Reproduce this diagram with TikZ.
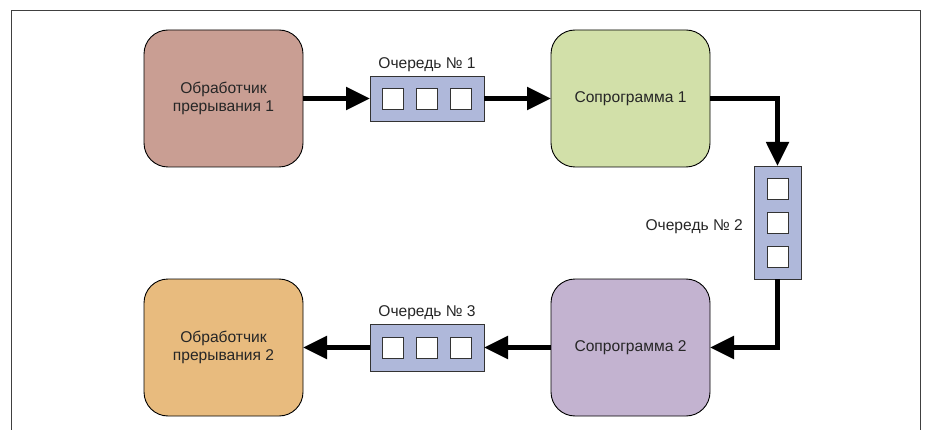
\documentclass[tikz,border=0pt]{standalone}
\usepackage{fontspec}
\setmainfont{Liberation Sans}
\usetikzlibrary{arrows.meta,positioning}

\definecolor{handlerA}{HTML}{C99E93}
\definecolor{handlerB}{HTML}{E8BB7E}
\definecolor{coroA}{HTML}{D2E0A9}
\definecolor{coroB}{HTML}{C3B3D0}
\definecolor{queuefill}{HTML}{AFB8DA}

\tikzset{
  task/.style={draw=black, line width=0.9pt, rounded corners=24pt, outer sep=0pt,
    minimum width=159pt, minimum height=137pt, align=center,
    font=\fontsize{15.6}{18.5}\selectfont, text=black!85},
  queue/.style={draw=black!80, line width=0.9pt, fill=queuefill, outer sep=0pt},
  cell/.style={draw=black!80, line width=0.9pt, fill=white, minimum size=21pt, inner sep=0pt},
  qlabel/.style={font=\fontsize{15.6}{18.5}\selectfont, text=black!85, inner sep=1pt},
  flow/.style={line width=5pt, -{Triangle[length=24pt,width=22pt]}}
}

\begin{document}
\begin{tikzpicture}[x=1pt,y=-1pt]
\useasboundingbox (0,0) rectangle (936,430);
% frame
\draw[black!75, line width=1pt] (11,430) -- (11,11) -- (920,11) -- (920,430);

% tasks
\node[task, fill=handlerA] (h1) at (223.5,98.5) {Обработчик\\прерывания 1};
\node[task, fill=coroA] (c1) at (630.5,98.5) {Сопрограмма 1};
\node[task, fill=coroB] (c2) at (630.5,347.5) {Сопрограмма 2};
\node[task, fill=handlerB] (h2) at (223.5,347.5) {Обработчик\\прерывания 2};

% queues
\node[queue, minimum width=114pt, minimum height=45pt] (q1) at (427,98.5) {};
\node[queue, minimum width=47pt, minimum height=113pt] (q2) at (777.5,222.5) {};
\node[queue, minimum width=114pt, minimum height=47pt] (q3) at (427,347.5) {};
\foreach \i/\d in {1/-34,2/0,3/34} {
  \node[cell] (q1c\i) at ([xshift=\d pt]q1.center) {};
  \node[cell] (q2c\i) at ([yshift=-\d pt]q2.center) {};
  \node[cell] (q3c\i) at ([xshift=\d pt]q3.center) {};
}
\node[qlabel, above=3pt of q1] (l1) {Очередь № 1};
\node[qlabel, left=10pt of q2, yshift=-4pt] (l2) {Очередь № 2};
\node[qlabel, above=3pt of q3] (l3) {Очередь № 3};

% connectors
\draw[flow] (h1) -- (q1);
\draw[flow] (q1) -- (c1);
\draw[flow] (c1.east) -| (q2.north);
\draw[flow] (q2.south) |- (c2.east);
\draw[flow] (c2) -- (q3);
\draw[flow] (q3) -- (h2);
\end{tikzpicture}
\end{document}
